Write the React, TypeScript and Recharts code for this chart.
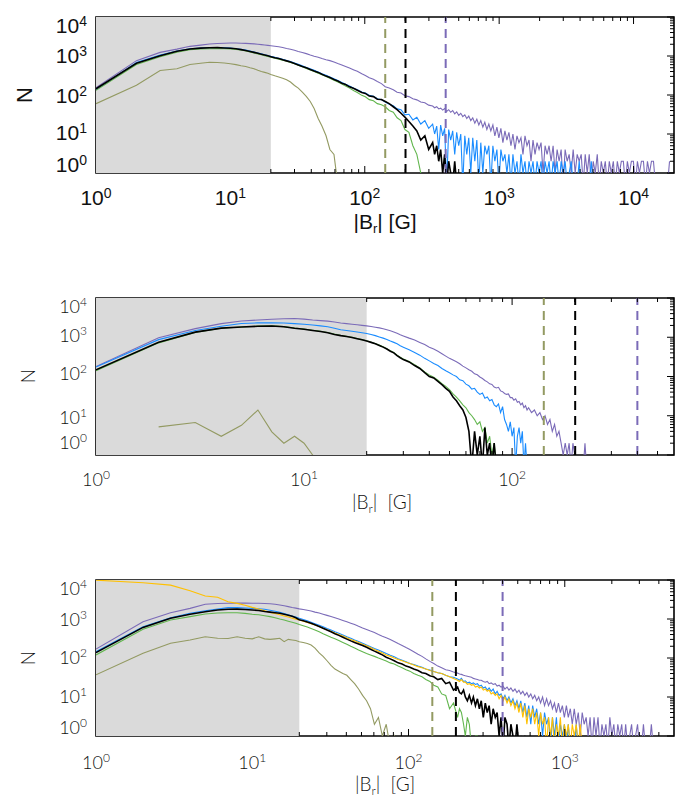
import React from 'react';
import { LineChart, Line, XAxis, YAxis, ReferenceArea, ReferenceLine } from 'recharts';

// ---------------- Panel 1 data ----------------
const P1_X = [1,2,3,4,5,6,7,8,9,10,11,12,13,14,15,16,17,18,19,20,
  21.4,22.9,24.5,26.2,28,30,32,34.3,36.7,39.3,
  42,45,48,51.5,55,59,63,67.5,72,77,
  83,88,95,101,108,116,124,133,142,152,
  163,174,186,199,213,228,244,261,280,299,
  320,331,343,355,367,380,393,407,421,436,
  451,467,483,500,518,536,555,574,594,615,
  636,659,682,706,730,756,782,810,838,867,
  898,929,962,995,1030,1066,1104,1142,1182,1224,
  1266,1311,1357,1404,1453,1504,1557,1611,1668,1726,
  1786,1849,1914,1981,2050,2122,2196,2273,2352,2435,
  2520,2608,2699,2794,2892,2993,3097,3206,3318,3434,
  3554,3679,3807,3941,4079,4221,4369,4522,4680,4844,
  5013,5189,5370,5558,5753,5954,6162,6378,6601,6832,
  7071,7319,7575,7840,8114,8398,8692,8996,9311,9637,
  9974,10323,10685,11059,11446,11846,12261,12690,13134,13594,
  14069,14562,15072,15599,16145,16710,17295,17900,18527];
const P1_PURPLE = [154,760,1240,1500,1770,1900,2030,2100,2130,2150,2150,2130,2110,2080,2050,2000,1960,1920,1870,1830,
  1780,1720,1650,1560,1490,1400,1310,1230,1150,1060,
  990,930,860,800,760,700,640,590,540,490,
  440,405,350,318,278,252,222,196,163,152,
  137,118,112,96,91,80,75,66,63,55,
  52,47,50,44,46,41,45,38,42,36,
  40,33,37,30,34,28,31,25,29,22,
  26,19,24,17,22,15,20,13,18,12,
  17,9,15,8,14,6,12,7,11,5,
  10,4,9,6,8,3,9,5,7,2,
  7,3,6,4,6,1,5,3,5,2,
  5,1,4,2,4,0.5,4,2,3,1,
  4,1,3,2,3,0.5,3,1,3,0.5,
  2,1,3,0.5,2,1,2,0.5,2,1,
  2,0.5,2,1,2,2,0.5,2,1,2,
  2,0.5,2,1,2,2,0.5,2,1,2,
  2,0.5,0.5,0.5,0.5,0.5,0.5,0.5,2];
const P1_BLUE = [137,680,1060,1340,1530,1600,1640,1640,1620,1590,1540,1480,1420,1340,1270,1200,1140,1080,1030,980,
  930,880,820,770,720,660,610,560,510,470,
  430,390,350,320,290,260,235,210,190,170,
  150,137,120,112,98,93,80,76,66,58,
  53,44,42,31,32,23,27,18,22,14,
  18,10,16,4,17,9,14,0.5,13,7,
  12,3,11,5,10,0.5,9,3,8,1,
  8,2,7,0.5,6,1,5,3,5,0.5,
  5,2,4,0.5,4,2,3,1,3,0.5,
  3,1,2,0.5,3,1,2,0.5,2,1,
  2,0.5,2,1,2,0.5,2,1,2,0.5,
  2,1,2,0.5,2,1,2,0.5,1,2,
  0.5,1,0.5,2,0.5,1,0.5,1,0.5,2,
  0.5,1,0.5,0.5,1,0.5,1,0.5,0.5,1,
  0.5,1,0.5,1,0.5];
const P1_GREEN = [132,605,960,1250,1440,1510,1540,1550,1540,1520,1480,1420,1350,1270,1190,1130,1080,1020,970,930,
  880,830,780,730,680,630,580,530,480,440,
  400,360,330,300,270,240,215,190,170,150,
  128,116,98,90,76,71,60,56,50,40,
  36,26,22,13,11,5,3,1,0.5];
const P1_BLACK = [145,650,1020,1320,1510,1590,1630,1640,1610,1580,1530,1460,1390,1310,1240,1170,1110,1060,1010,960,
  900,860,800,750,700,640,590,540,500,450,
  410,380,340,305,280,250,228,200,185,162,
  146,132,116,110,94,91,78,77,68,60,
  50,42,34,27,21,16,12,7,9,4,
  6,3,5,2,4,1,3,0.5,2,1,
  0.5,2,0.5,1,0.5];
const P1_OLIVE = [60,177,425,470,605,650,690,680,660,630,600,560,540,500,470,430,400,380,360,335,
  310,290,270,245,215,175,150,118,92,68,
  45,25,16,9,4,3,0.5];

// ---------------- Panel 2 data ----------------
const P2_X = [1,2,3,4,5,6,7,8,9,10,11,12,13,14,15,16,17,18,19,20,21,22,23,24,25,26,27,28,29,30,
  32,34,36,38,40,42,44,46,48,50,52,54,56,58,60,62,64,66,68,70,
  72,74,76,78,80,82,84,86,88,90,92,94,96,98,100,102,104,106,108,110,
  112,114,116,118,120,
  124,128,132,136,140,144,148,152,156,160,164,168,172,176,180,184,188,192,196,200,
  204,208,212,216,220,224,228];
const P2_PURPLE = [180,970,1660,2220,2590,2750,2870,2950,3000,2900,
  2750,2650,2580,2450,2300,2220,2150,2080,2010,1950,
  1880,1800,1730,1650,1560,1460,1360,1260,1160,1080,
  950,850,740,650,560,500,440,380,330,290,
  262,238,212,184,166,148,136,117,111,97,
  89,79,73,65,63,54,51,53,43,41,
  37,35,36,29,29,25,27,22,23,19,
  21,16,18,14,16,
  12,14,10,12,8,10,6,8,4,6,
  3,4,2,1,2,1,2,0.5,2,1,
  0.5,0.5,0.5,0.5,0.5,2,0.5];
const P2_BLUE = [174,870,1490,1900,2250,2320,2350,2300,2220,2140,
  2050,1950,1850,1700,1550,1480,1420,1360,1300,1250,
  1170,1100,1020,950,880,800,740,680,610,560,
  480,410,350,290,250,215,190,160,140,125,
  110,100,82,78,64,58,48,50,40,35,
  38,28,30,24,26,19,17,20,12,17,
  8,6,4,7,3,5,0.5,3,5,2,
  4,0.5,2,0.5,1];
const P2_GREEN = [140,720,1330,1700,1830,1920,1960,1870,1720,1630,
  1510,1420,1320,1200,1120,1060,1000,930,870,810,
  750,690,630,570,510,450,410,350,310,280,
  240,200,165,130,110,96,80,66,56,46,
  36,30,24,19,16,12,10,8,6,7,
  4,5,2,3,1,2,0.5,1,0.5];
const P2_BLACK = [148,745,1350,1710,1820,1900,1940,1850,1690,1600,
  1490,1400,1300,1180,1100,1050,990,920,860,800,
  740,680,620,560,500,440,400,340,300,270,
  235,190,160,125,100,92,75,62,50,42,
  30,24,18,14,9,4,0.5,4,1,3,
  0.5,5,1,2,0.5,2,0.5];
const P2_OLIVE = [null,5.2,6.7,3.0,5.7,14,3.9,2,3,2,1,0.5];

// ---------------- Panel 3 data ----------------
const P3_X = [1,2,3,4,5,6,7,8,9,10,11,12,13,14,15,16,17,18,19,20,
  21.2,22.5,23.8,25.2,26.8,28.4,30.1,31.9,33.8,35.8,
  38,40.3,42.7,45.2,47.9,50.8,53.9,57.1,60.5,64.2,
  68,72,76.4,81,85.8,91,96.4,102,108,115,
  122,129,137,145,154,163,173,183,194,
  206,212,218,225,231,238,245,253,260,268,
  276,284,292,301,310,319,328,338,348,359,
  369,380,391,403,414,427,439,452,466,480,
  494,509,523,539,555,572,588,606,623,642,
  661,681,700,721,742,765,787,811,834,859,
  884,911,937,965,994,1024,1053,1085,1117,1150,
  1184,1220,1255,1293,1330,1370,1410,1452,1494,1539,
  1584,1632,1679,1729,1780,1833,1886,1943,2000,2060,
  2120,2184,2247,2314,2382,2453,2525,2601,2676,2756,
  2837,2922,3007,3097,3187,3283,3378,3479,3581,3688,3796];
const P3_PURPLE = [170,850,1450,1870,2400,2500,2530,2550,2550,2540,2530,2500,2450,2380,2280,2180,2080,1980,1900,1820,
  1750,1680,1600,1500,1420,1330,1240,1160,1080,1000,
  920,850,780,720,650,590,540,490,450,400,
  360,330,300,265,235,210,185,165,145,125,
  110,95,82,72,62,56,50,48,44,
  41,39,38,36,35,34,33,32,30,29,
  28,27,27,25,24,25,22,23,21,22,
  19,20,18,19,16,18,15,17,14,16,
  13,15,12,14,11,13,10,12,9,11,
  8,10,7,10,6,9,6,8,5,7,
  4,7,4,6,3,6,3,5,2,5,
  2,4,1,4,2,3,1,3,0.5,3,
  1,3,0.5,2,1,2,0.5,3,1,2,
  0.5,2,1,2,0.5,2,0.5,1,2,0.5,
  1,2,0.5,0.5,2,0.5,1,0.5,2,0.5,0.5];
const P3_BLUE = [145,635,1080,1400,1630,1800,1960,1960,1920,1870,1830,1780,1680,1580,1480,1380,1290,1200,1120,1040,
  970,900,830,760,690,630,570,520,470,430,
  390,350,320,290,265,240,215,195,175,160,
  145,130,118,108,96,88,80,72,68,62,
  58,52,49,45,42,40,36,33,32,
  29,27,30,25,26,23,24,22,23,21,
  22,19,20,17,18,15,17,14,16,12,
  14,11,12,9,11,8,10,7,9,6,
  8,5,8,4,7,3,6,2,6,3,
  5,2,4,1,4,2,3,0.5,3,1,
  3,0.5,2,1,2,0.5,2,0.5,1,0.5,
  2,0.5,1,0.5,1,0.5,1,0.5,1,0.5,
  1,0.5];
const P3_YELLOW = [9900,8500,7400,5300,3900,3600,2780,2520,2250,1990,1800,1620,1480,1380,1280,1200,1120,1050,990,940,
  880,820,760,700,640,580,530,485,440,400,
  365,330,300,275,250,225,205,185,165,150,
  135,120,110,100,92,85,78,72,66,60,
  56,52,48,45,42,40,36,33,30,
  27,25,28,24,24,21,22,20,21,18,
  19,17,18,15,16,14,15,12,13,11,
  12,9,11,8,10,7,9,6,8,5,
  7,4,7,3,6,2,5,3,5,2,
  4,1,4,2,3,0.5,3,1,3,0.5,
  2,1,3,0.5,2,1,2,0.5,2,1,
  2,0.5,2,0.5,1,0.5];
const P3_GREEN = [120,545,940,1150,1340,1420,1450,1440,1390,1320,1280,1210,1150,1080,1000,940,880,830,780,720,
  670,620,570,520,470,420,380,340,310,280,
  250,225,200,180,160,145,130,120,110,100,
  92,84,75,70,62,56,50,46,40,36,
  33,28,25,20,18,12,11,5,7,
  3,5,4,2,1,3,2,0.5,0.5,1,
  1,0.5,0.5,1,0.5];
const P3_BLACK = [137,610,1040,1320,1540,1700,1780,1790,1750,1700,1650,1560,1500,1450,1400,1320,1250,1170,1080,960,
  900,840,780,710,640,580,520,470,420,380,
  340,305,275,250,230,210,188,168,150,135,
  120,105,95,85,75,70,62,58,52,48,
  42,40,35,33,28,30,22,24,15,
  18,13,12,15,10,8,11,7,10,6,
  9,5,8,3,7,4,6,2,5,3,
  4,1,3,0.5,3,2,0.5,2,1,0.5,
  2,0.5,1,0.5,1,0.5];
const P3_OLIVE = [37,132,238,290,350,320,315,350,320,310,350,310,300,310,320,262,300,290,280,262,
  250,235,215,180,135,110,85,65,52,46,
  40,36,28,22,16,11,8,5,2,3,
  1,2,0.5,1,0.5];

// thresholds (vertical dashed lines), shaded limit, ticks
const THRESHOLDS = [142, 201, 400];
const SHADE_MAX = 20;
const Y_MAJORS = [1, 10, 100, 1000, 10000];
const P1_X_MAJORS = [1, 10, 100, 1000, 10000];
const P2_X_MAJORS = [1, 10, 100];
const P3_X_MAJORS = [1, 10, 100, 1000];

const C = {
  purple: '#7b6bb8',
  blue: '#1a8cff',
  green: '#62b64e',
  black: '#000000',
  olive: '#939a62',
  yellow: '#ffc000',
};

type Row = Record<string, number | null>;
function buildRows(xs: number[], series: Record<string, (number | null)[]>): Row[] {
  return xs.map((x, i) => {
    const r: Row = { x };
    Object.keys(series).forEach((k) => {
      const v = series[k][i];
      r[k] = v === undefined ? null : v;
    });
    return r;
  });
}

function withMinors(majors: number[], max: number): number[] {
  const out: number[] = [];
  majors.forEach((m) => {
    for (let k = 1; k <= 9; k++) {
      const v = m * k;
      if (v <= max) out.push(v);
    }
  });
  return out;
}

const isMajor = (v: number) => {
  const lg = Math.log10(v);
  return Math.abs(lg - Math.round(lg)) < 1e-6;
};

type PanelCfg = {
  top: number;
  plotH: number;
  xMax: number;
  xMajors: number[];
  rows: Row[];
  lines: { key: string; color: string; width: number }[];
  font: string;
  weight: number;
  size: number;
  supSize: number;
  supRaise: number;
  xLabelDy: number;
  yLabelDy: Record<number, number>;
};

const PLOT_LEFT = 96;
const PLOT_RIGHT = 674;
const WIDTH = 691;
const PLOT_W = PLOT_RIGHT - PLOT_LEFT;

function Panel({ cfg }: { cfg: PanelCfg }) {
  const marginTop = 10;
  const xAxisH = 40;
  const height = marginTop + cfg.plotH + xAxisH;
  const xTicks = withMinors(cfg.xMajors, cfg.xMax);
  const yTicks = withMinors(Y_MAJORS, 10000);

  const XTick = (props: any) => {
    const { x, y, payload } = props;
    const v = payload.value as number;
    const major = isMajor(v);
    const len = major ? 7 : 4;
    const inside = v >= SHADE_MAX && v < cfg.xMax;
    return (
      <g>
        {inside && <line x1={x} x2={x} y1={y} y2={y - len} stroke="#000" strokeWidth={1} />}
        {inside && <line x1={x} x2={x} y1={y - cfg.plotH} y2={y - cfg.plotH + len} stroke="#000" strokeWidth={1} />}
        {major && (
          <text x={x} y={y + cfg.xLabelDy} textAnchor="middle" fontFamily={cfg.font} fontWeight={cfg.weight} fontSize={cfg.size} fill="#111">
            10<tspan dy={-cfg.supRaise} fontSize={cfg.supSize}>{Math.round(Math.log10(v))}</tspan>
          </text>
        )}
      </g>
    );
  };

  const YTick = (props: any) => {
    const { x, y, payload } = props;
    const v = payload.value as number;
    const major = isMajor(v);
    const len = major ? 7 : 4;
    const rx = x + PLOT_W;
    const dy = cfg.yLabelDy[v] ?? 0;
    return (
      <g>
        <line x1={rx} x2={rx - len} y1={y} y2={y} stroke="#000" strokeWidth={1} />
        {major && (
          <text x={x - 9} y={y + dy} textAnchor="end" fontFamily={cfg.font} fontWeight={cfg.weight} fontSize={cfg.size} fill="#111">
            10<tspan dy={-cfg.supRaise} fontSize={cfg.supSize}>{Math.round(Math.log10(v))}</tspan>
          </text>
        )}
      </g>
    );
  };

  return (
    <div style={{ position: 'absolute', left: 0, top: cfg.top - marginTop }}>
      <LineChart
        width={WIDTH}
        height={height}
        data={cfg.rows}
        margin={{ top: marginTop, right: WIDTH - PLOT_RIGHT, left: PLOT_LEFT - 60, bottom: 0 }}
      >
        <ReferenceArea x1={1} x2={cfg.xMax} y1={1} y2={10000} fill="none" stroke="#000" strokeWidth={1.6} ifOverflow="visible" />
        <ReferenceArea x1={1} x2={SHADE_MAX} y1={1} y2={10000} fill="#dadada" fillOpacity={1} stroke="none" ifOverflow="visible" />
        <XAxis
          dataKey="x"
          type="number"
          scale="log"
          domain={[1, cfg.xMax]}
          allowDataOverflow
          ticks={xTicks}
          interval={0}
          tick={XTick}
          tickLine={false}
          axisLine={false}
          tickSize={0}
          tickMargin={0}
          height={xAxisH}
        />
        <YAxis
          type="number"
          scale="log"
          domain={[1, 10000]}
          allowDataOverflow
          ticks={yTicks}
          interval={0}
          tick={YTick}
          tickLine={false}
          axisLine={false}
          tickSize={0}
          tickMargin={0}
          width={60}
        />
        {cfg.lines.map((l) => (
          <Line
            key={l.key}
            dataKey={l.key}
            type="linear"
            stroke={l.color}
            strokeWidth={l.width}
            dot={false}
            activeDot={false}
            isAnimationActive={false}
            connectNulls={false}
          />
        ))}
        <ReferenceLine x={THRESHOLDS[0]} stroke={C.olive} strokeWidth={2} strokeDasharray="9 6" />
        <ReferenceLine x={THRESHOLDS[1]} stroke={C.black} strokeWidth={2} strokeDasharray="9 6" />
        <ReferenceLine x={THRESHOLDS[2]} stroke={C.purple} strokeWidth={2} strokeDasharray="9 6" />
      </LineChart>
    </div>
  );
}

const HELV = '"Liberation Sans", Arial, Helvetica, sans-serif';
const LIGHT = 'Lato, "Open Sans", sans-serif';

const panels: PanelCfg[] = [
  {
    top: 17,
    plotH: 156,
    xMax: 20000,
    xMajors: P1_X_MAJORS,
    rows: buildRows(P1_X, { purple: P1_PURPLE, blue: P1_BLUE, green: P1_GREEN, black: P1_BLACK, olive: P1_OLIVE }),
    lines: [
      { key: 'purple', color: C.purple, width: 1.1 },
      { key: 'blue', color: C.blue, width: 1.1 },
      { key: 'green', color: C.green, width: 1.1 },
      { key: 'black', color: C.black, width: 1.6 },
      { key: 'olive', color: C.olive, width: 1.1 },
    ],
    font: HELV,
    weight: 400,
    size: 21,
    supSize: 14,
    supRaise: 7,
    xLabelDy: 32,
    yLabelDy: { 10000: 16, 1000: 7, 100: 8, 10: 6, 1: -1 },
  },
  {
    top: 298,
    plotH: 157,
    xMax: 600,
    xMajors: P2_X_MAJORS,
    rows: buildRows(P2_X, { purple: P2_PURPLE, blue: P2_BLUE, green: P2_GREEN, black: P2_BLACK, olive: P2_OLIVE }),
    lines: [
      { key: 'purple', color: C.purple, width: 1.1 },
      { key: 'blue', color: C.blue, width: 1.1 },
      { key: 'green', color: C.green, width: 1.1 },
      { key: 'black', color: C.black, width: 1.6 },
      { key: 'olive', color: C.olive, width: 1.1 },
    ],
    font: LIGHT,
    weight: 300,
    size: 18,
    supSize: 12,
    supRaise: 7,
    xLabelDy: 31,
    yLabelDy: { 10000: 15, 1000: 5, 100: 3, 10: 8, 1: -6 },
  },
  {
    top: 580,
    plotH: 156,
    xMax: 5000,
    xMajors: P3_X_MAJORS,
    rows: buildRows(P3_X, {
      purple: P3_PURPLE, blue: P3_BLUE, yellow: P3_YELLOW, green: P3_GREEN, black: P3_BLACK, olive: P3_OLIVE,
    }),
    lines: [
      { key: 'purple', color: C.purple, width: 1.1 },
      { key: 'blue', color: C.blue, width: 1.1 },
      { key: 'yellow', color: C.yellow, width: 1.1 },
      { key: 'green', color: C.green, width: 1.1 },
      { key: 'black', color: C.black, width: 1.6 },
      { key: 'olive', color: C.olive, width: 1.1 },
    ],
    font: LIGHT,
    weight: 300,
    size: 18,
    supSize: 12,
    supRaise: 7,
    xLabelDy: 33,
    yLabelDy: { 10000: 15, 1000: 7, 100: 6, 10: 6, 1: -2 },
  },
];

function Title({ x, y, font, weight, size, rotate, children }: any) {
  return (
    <div
      style={{
        position: 'absolute',
        left: x,
        top: y,
        transform: `translate(-50%, -50%)${rotate ? ' rotate(-90deg)' : ''}`,
        fontFamily: font,
        fontWeight: weight,
        fontSize: size,
        lineHeight: 1,
        whiteSpace: 'pre',
        color: '#111',
      }}
    >
      {children}
    </div>
  );
}

function BrLabel({ sub, gap }: { sub: number; gap: string }) {
  return (
    <span>
      |B<span style={{ fontSize: sub, position: 'relative', top: 4 }}>r</span>|{gap}[G]
    </span>
  );
}

export default function App() {
  return (
    <div style={{ position: 'absolute', left: 0, top: 0, width: 691, height: 801, background: '#fff', overflow: 'hidden' }}>
      {panels.map((p, i) => (
        <Panel key={i} cfg={p} />
      ))}
      <Title x={25} y={95} font={HELV} weight={400} size={22} rotate>N</Title>
      <Title x={385} y={221} font={HELV} weight={400} size={21}><BrLabel sub={13} gap=" " /></Title>
      <Title x={27} y={376} font={LIGHT} weight={300} size={19} rotate>N</Title>
      <Title x={382} y={501} font={LIGHT} weight={300} size={19}><BrLabel sub={12} gap="  " /></Title>
      <Title x={27} y={658} font={LIGHT} weight={300} size={19} rotate>N</Title>
      <Title x={385} y={783} font={LIGHT} weight={300} size={19}><BrLabel sub={12} gap="  " /></Title>
    </div>
  );
}
